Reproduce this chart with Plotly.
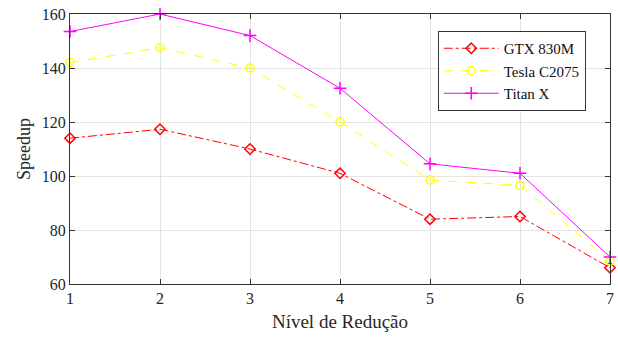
import plotly.graph_objects as go

levels = [1, 2, 3, 4, 5, 6, 7]
gtx_830m = [114, 117.3, 110, 101, 84, 85, 66]
tesla_c2075 = [142, 147.5, 140, 120, 98.5, 96.5, 68.5]
titan_x = [153.5, 160, 152, 132.5, 104.5, 101, 70]

SERIF = "'Liberation Serif', 'Times New Roman', Times, serif"

fig = go.Figure()
fig.add_trace(go.Scatter(x=levels, y=gtx_830m, name="GTX 830M", mode="lines+markers", cliponaxis=False,
                         line=dict(color="#ff0000", width=1, dash="dashdot"),
                         marker=dict(symbol="diamond-open", size=8, color="#ff0000", line=dict(width=1.5))))
fig.add_trace(go.Scatter(x=levels, y=tesla_c2075, name="Tesla C2075", mode="lines+markers", cliponaxis=False,
                         line=dict(color="#ffff00", width=1, dash="dash"),
                         marker=dict(symbol="circle-open", size=8, color="#ffff00", line=dict(width=1.5))))
fig.add_trace(go.Scatter(x=levels, y=titan_x, name="Titan X", mode="lines+markers", cliponaxis=False,
                         line=dict(color="#ff00ff", width=1),
                         marker=dict(symbol="cross-thin-open", size=9, color="#ff00ff", line=dict(width=1.5, color="#ff00ff"))))

axis_common = dict(showgrid=True, gridcolor="#e3e3e3", gridwidth=1, showline=True, linecolor="#333333",
                   linewidth=1, mirror="ticks", ticks="inside", ticklen=5, tickcolor="#333333",
                   zeroline=False, ticklabeloverflow="allow",
                   tickfont=dict(family=SERIF, size=16, color="#262626"))
fig.update_xaxes(range=[1, 7], tickvals=levels, title=dict(text="Nível de Redução", font=dict(family=SERIF, size=19, color="#262626"), standoff=8), **axis_common)
fig.update_yaxes(range=[60, 160], dtick=20, title=dict(text="Speedup", font=dict(family=SERIF, size=18, color="#262626"), standoff=6), **axis_common)

fig.update_layout(width=618, height=337, margin=dict(l=70, r=8, t=14, b=53, autoexpand=False),
                  plot_bgcolor="white", paper_bgcolor="white",
                  font=dict(family=SERIF, color="#262626"),
                  legend=dict(x=0.681, y=0.937, xanchor="left", yanchor="top", bgcolor="white",
                              bordercolor="#333333", borderwidth=1,
                              font=dict(family=SERIF, size=15, color="#111111"),
                              tracegroupgap=0, itemwidth=55))
fig.write_html("out.html", config={"displayModeBar": False},
               post_script="document.body.style.margin='0';document.body.style.overflow='hidden';")
